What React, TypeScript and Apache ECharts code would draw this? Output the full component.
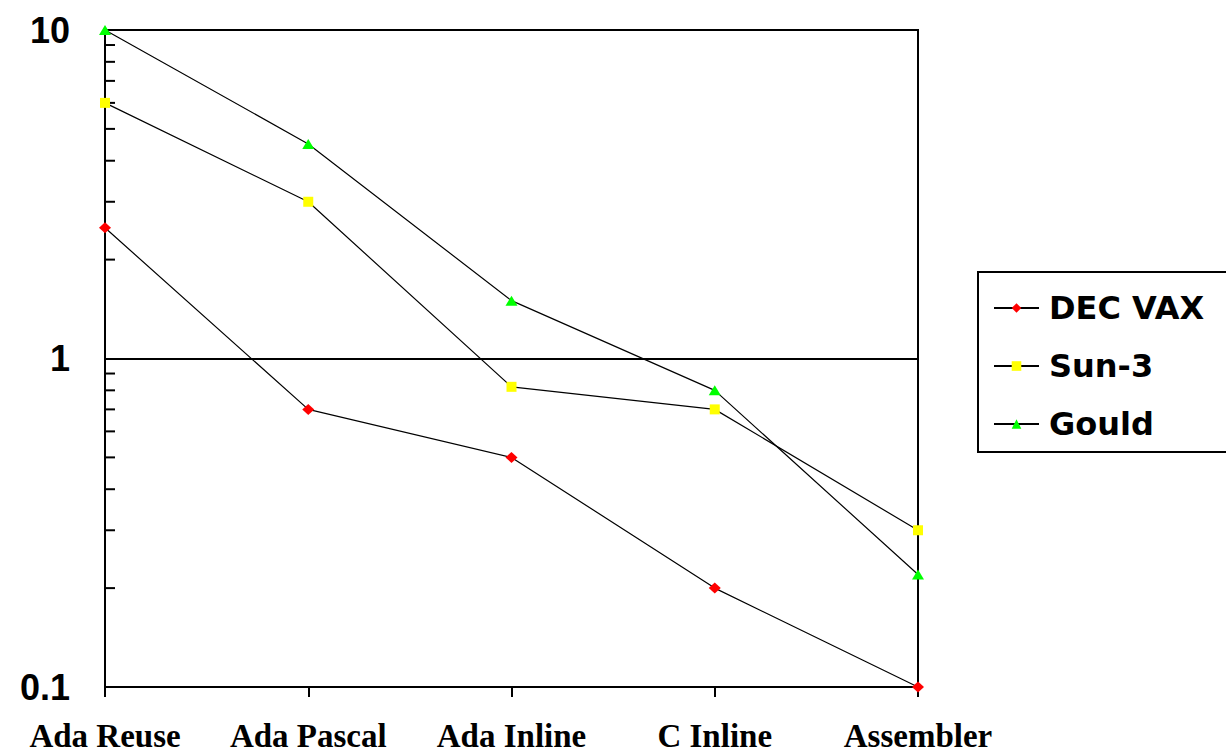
import React, { useEffect, useRef } from "react";
import * as echarts from "echarts";

const categories = ["Ada Reuse", "Ada Pascal", "Ada Inline", "C Inline", "Assembler"];
const decVax = [2.5, 0.7, 0.5, 0.2, 0.1];
const sun3 = [6, 3, 0.82, 0.7, 0.3];
const gould = [10, 4.5, 1.5, 0.8, 0.22];
const yMinorTicks = [0.2, 0.3, 0.4, 0.5, 0.6, 0.7, 0.8, 0.9, 2, 3, 4, 5, 6, 7, 8, 9];

export default function App() {
  const ref = useRef<HTMLDivElement>(null);
  useEffect(() => {
    document.body.style.margin = "0";
    const chart = echarts.init(ref.current!, null, { renderer: "svg" });
    const lineStyle = { color: "#000", width: 1.2 };
    chart.setOption({
      animation: false,
      backgroundColor: "#fff",
      grid: {
        left: 105,
        right: 308,
        top: 30,
        bottom: 65,
        show: true,
        borderColor: "#000",
        borderWidth: 2,
        backgroundColor: "transparent",
      },
      legend: {
        orient: "vertical",
        left: 978,
        top: 272,
        data: ["DEC VAX", "Sun-3", "Gould"],
        backgroundColor: "#fff",
        borderColor: "#000",
        borderWidth: 2,
        borderRadius: 0,
        padding: [20, 40, 12, 15],
        itemGap: 26,
        itemWidth: 45,
        itemHeight: 12,
        textStyle: {
          fontFamily: "DejaVu Sans",
          fontWeight: "bold",
          fontSize: 32,
          color: "#000",
          padding: [0, 0, 0, 5],
        },
      },
      xAxis: {
        type: "category",
        data: categories,
        boundaryGap: false,
        axisLine: { show: true, lineStyle: { color: "#000", width: 2 } },
        axisTick: { show: true, alignWithLabel: true, inside: false, length: 10, interval: 0, lineStyle: { color: "#000", width: 2 } },
        axisLabel: {
          interval: 0,
          color: "#000",
          fontFamily: "Liberation Serif",
          fontWeight: "bold",
          fontSize: 33,
          margin: 32,
        },
        splitLine: { show: false },
      },
      yAxis: {
        type: "log",
        logBase: 10,
        min: 0.1,
        max: 10,
        axisLine: { show: true, lineStyle: { color: "#000", width: 2 } },
        axisTick: { show: false },
        axisLabel: {
          color: "#000",
          fontFamily: "Liberation Sans",
          fontWeight: "bold",
          fontSize: 36,
          margin: 35,
          formatter: (v: number) => String(v),
        },
        splitLine: { show: true, lineStyle: { color: "#000", width: 2 } },
      },
      series: [
        {
          name: "minorTicks",
          type: "custom",
          silent: true,
          clip: false,
          data: yMinorTicks.map((v) => [0, v]),
          renderItem: (_params: any, api: any) => {
            const p = api.coord([0, api.value(1)]);
            return {
              type: "line",
              shape: { x1: p[0], y1: p[1], x2: p[0] + 10, y2: p[1] },
              style: { stroke: "#000", lineWidth: 2 },
            };
          },
          z: 1,
        },
        {
          name: "DEC VAX",
          type: "line",
          data: decVax,
          symbol: "diamond",
          symbolSize: [12, 11],
          showAllSymbol: true,
          lineStyle,
          itemStyle: { color: "#ff0000" },
          z: 3,
        },
        {
          name: "Sun-3",
          type: "line",
          data: sun3,
          symbol: "rect",
          symbolSize: 10,
          lineStyle,
          itemStyle: { color: "#ffff00" },
          z: 3,
        },
        {
          name: "Gould",
          type: "line",
          data: gould,
          symbol: "triangle",
          symbolSize: [12, 10],
          lineStyle,
          itemStyle: { color: "#00ff00" },
          z: 3,
        },
      ],
    });
    return () => chart.dispose();
  }, []);
  return <div ref={ref} style={{ width: 1226, height: 752 }} />;
}
